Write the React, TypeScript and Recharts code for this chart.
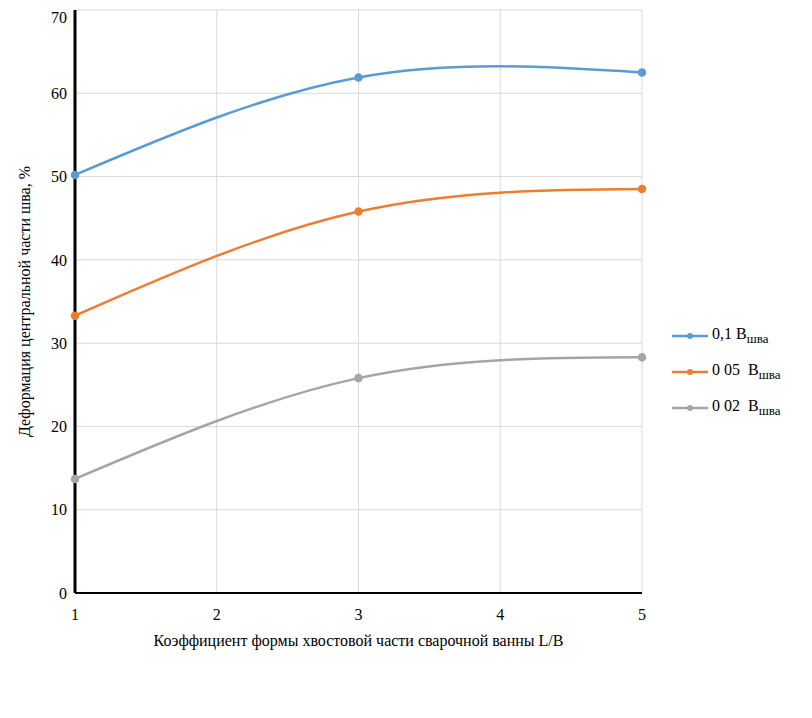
import { CartesianGrid, Line, LineChart, XAxis, YAxis } from "recharts";

const xValues = [1, 3, 5];
const series01 = [50.2, 61.9, 62.5];
const series005 = [33.3, 45.8, 48.5];
const series002 = [13.7, 25.8, 28.3];
const xTicks = [1, 2, 3, 4, 5];
const yTicks = [0, 10, 20, 30, 40, 50, 60, 70];

const data = xValues.map((x, i) => ({ x, a: series01[i], b: series005[i], c: series002[i] }));

const SERIES = [
  { key: "a", color: "#5b9bd5", lead: "0,1 B" },
  { key: "b", color: "#ed7d31", lead: "0 05  B" },
  { key: "c", color: "#a5a5a5", lead: "0 02  B" },
];

const font = "'Liberation Serif', 'Times New Roman', serif";

export default function App() {
  return (
    <div style={{ position: "relative", width: 812, height: 700, fontFamily: font }}>
      <LineChart width={812} height={700} data={data} margin={{ top: 2, right: 178, left: 27, bottom: 55 }}>
        <CartesianGrid stroke="#d9d9d9" />
        <XAxis
          dataKey="x"
          type="number"
          domain={[1, 5]}
          ticks={xTicks}
          height={60}
          axisLine={{ stroke: "#000", strokeWidth: 2 }}
          tickLine={false}
          tick={{ fill: "#000", fontSize: 16, fontFamily: font }}
          tickMargin={10}
          label={{
            value: "Коэффициент формы хвостовой части сварочной ванны L/B",
            position: "insideBottom",
            offset: 7,
            fill: "#000",
            fontSize: 16,
            fontFamily: font,
          }}
        />
        <YAxis
          type="number"
          domain={[0, 70]}
          ticks={yTicks}
          width={40}
          axisLine={{ stroke: "#000", strokeWidth: 3 }}
          tickLine={false}
          tick={{ fill: "#000", fontSize: 16, fontFamily: font }}
          label={{
            value: "Деформация центральной части шва, %",
            angle: -90,
            position: "insideLeft",
            offset: -11,
            style: { textAnchor: "middle" },
            fill: "#000",
            fontSize: 16,
            fontFamily: font,
          }}
        />
        {SERIES.map((s) => (
          <Line
            key={s.key}
            dataKey={s.key}
            type="natural"
            stroke={s.color}
            strokeWidth={2.5}
            dot={{ r: 3, fill: s.color, stroke: s.color }}
            isAnimationActive={false}
          />
        ))}
      </LineChart>
      <div style={{ position: "absolute", left: 664, top: 310, fontSize: 16, color: "#000" }}>
        {SERIES.map((s) => (
          <div key={s.key} style={{ display: "flex", alignItems: "center", height: 36 }}>
            <svg width={36} height={10} style={{ marginRight: 4 }}>
              <line x1={0} y1={5} x2={36} y2={5} stroke={s.color} strokeWidth={2.5} />
              <circle cx={18} cy={5} r={3} fill={s.color} />
            </svg>
            <span style={{ whiteSpace: "pre" }}>
              {s.lead}
              <sub style={{ fontSize: 13 }}>шва</sub>
            </span>
          </div>
        ))}
      </div>
    </div>
  );
}
